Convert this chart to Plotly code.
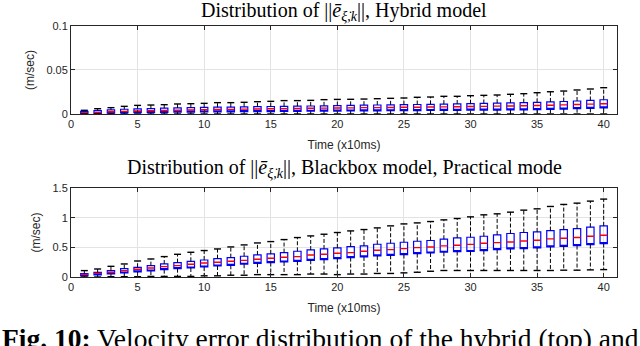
import plotly.graph_objects as go

steps = list(range(1, 41))

# top panel: hybrid model (m/sec)
hyb_med = [0.0010, 0.0018, 0.0025, 0.0030, 0.0034, 0.0037, 0.0040, 0.0043, 0.0046, 0.0049,
           0.0051, 0.0053, 0.0055, 0.0057, 0.0059, 0.0061, 0.0063, 0.0065, 0.0067, 0.0069,
           0.0070, 0.0072, 0.0073, 0.0074, 0.0076, 0.0077, 0.0079, 0.0081, 0.0083, 0.0085,
           0.0087, 0.0089, 0.0091, 0.0094, 0.0097, 0.0100, 0.0104, 0.0108, 0.0112, 0.0117]
hyb_q3 = [0.0030, 0.0040, 0.0048, 0.0054, 0.0058, 0.0062, 0.0066, 0.0069, 0.0072, 0.0075,
          0.0077, 0.0079, 0.0081, 0.0083, 0.0085, 0.0087, 0.0089, 0.0091, 0.0093, 0.0096,
          0.0098, 0.0100, 0.0102, 0.0104, 0.0106, 0.0108, 0.0110, 0.0112, 0.0114, 0.0117,
          0.0120, 0.0123, 0.0126, 0.0129, 0.0133, 0.0137, 0.0142, 0.0148, 0.0154, 0.0162]
hyb_q1 = [0.0002, 0.0006, 0.0010, 0.0013, 0.0015, 0.0017, 0.0019, 0.0021, 0.0022, 0.0023,
          0.0024, 0.0025, 0.0026, 0.0027, 0.0028, 0.0029, 0.0030, 0.0031, 0.0032, 0.0033,
          0.0034, 0.0035, 0.0036, 0.0037, 0.0038, 0.0039, 0.0040, 0.0041, 0.0042, 0.0043,
          0.0044, 0.0045, 0.0046, 0.0047, 0.0050, 0.0053, 0.0056, 0.0060, 0.0064, 0.0070]
hyb_hi = [0.0042, 0.0060, 0.0072, 0.0087, 0.0098, 0.0102, 0.0106, 0.0114, 0.0117, 0.0121,
          0.0129, 0.0129, 0.0133, 0.0140, 0.0144, 0.0152, 0.0152, 0.0155, 0.0163, 0.0166,
          0.0167, 0.0170, 0.0174, 0.0178, 0.0182, 0.0190, 0.0193, 0.0201, 0.0201, 0.0208,
          0.0212, 0.0216, 0.0224, 0.0231, 0.0242, 0.0253, 0.0261, 0.0273, 0.0284, 0.0299]
hyb_lo = [0.0000, 0.0000, 0.0000, 0.0000, 0.0000, 0.0000, 0.0000, 0.0000, 0.0000, 0.0000,
          0.0000, 0.0000, 0.0000, 0.0000, 0.0000, 0.0000, 0.0000, 0.0000, 0.0000, 0.0000,
          0.0000, 0.0000, 0.0000, 0.0000, 0.0000, 0.0000, 0.0000, 0.0000, 0.0000, 0.0000,
          0.0000, 0.0000, 0.0000, 0.0000, 0.0000, 0.0000, 0.0000, 0.0000, 0.0000, 0.0000]

# bottom panel: blackbox model, practical mode (m/sec)
bb_med = [0.045, 0.062, 0.080, 0.108, 0.130, 0.152, 0.175, 0.192, 0.214, 0.236,
          0.248, 0.265, 0.280, 0.300, 0.316, 0.333, 0.344, 0.372, 0.383, 0.400,
          0.411, 0.434, 0.451, 0.462, 0.479, 0.496, 0.507, 0.524, 0.535, 0.550,
          0.569, 0.580, 0.591, 0.608, 0.620, 0.642, 0.654, 0.665, 0.687, 0.704]
bb_q3 = [0.057, 0.079, 0.108, 0.141, 0.164, 0.192, 0.220, 0.243, 0.265, 0.287,
         0.310, 0.327, 0.350, 0.372, 0.389, 0.412, 0.434, 0.456, 0.473, 0.490,
         0.513, 0.524, 0.552, 0.569, 0.586, 0.603, 0.615, 0.637, 0.659, 0.670,
         0.687, 0.710, 0.733, 0.750, 0.760, 0.783, 0.800, 0.817, 0.840, 0.862]
bb_q1 = [0.017, 0.034, 0.051, 0.068, 0.085, 0.101, 0.125, 0.141, 0.152, 0.169,
         0.186, 0.197, 0.215, 0.231, 0.243, 0.253, 0.265, 0.282, 0.293, 0.310,
         0.327, 0.338, 0.355, 0.366, 0.378, 0.395, 0.405, 0.417, 0.429, 0.430,
         0.445, 0.462, 0.473, 0.480, 0.490, 0.507, 0.518, 0.530, 0.547, 0.564]
bb_hi = [0.108, 0.135, 0.180, 0.220, 0.270, 0.304, 0.344, 0.383, 0.417, 0.446,
         0.473, 0.507, 0.541, 0.574, 0.597, 0.631, 0.665, 0.693, 0.721, 0.750,
         0.777, 0.800, 0.828, 0.862, 0.895, 0.912, 0.935, 0.963, 0.986, 1.014,
         1.048, 1.065, 1.093, 1.127, 1.149, 1.189, 1.223, 1.245, 1.279, 1.313]
bb_lo = [0.000, 0.000, 0.005, 0.005, 0.005, 0.010, 0.010, 0.010, 0.010, 0.020,
         0.020, 0.030, 0.030, 0.040, 0.040, 0.040, 0.040, 0.050, 0.050, 0.040,
         0.050, 0.050, 0.060, 0.060, 0.070, 0.080, 0.097, 0.110, 0.110, 0.110,
         0.110, 0.110, 0.110, 0.110, 0.110, 0.110, 0.115, 0.115, 0.120, 0.125]

titles = ["Distribution of ||<i>ē</i><sub><i>ξ̇,k</i></sub>||, Hybrid model",
          "Distribution of ||<i>ē</i><sub><i>ξ̇,k</i></sub>||, Blackbox model, Practical mode"]

SANS = "Liberation Sans, Arial, sans-serif"
SERIF = "Liberation Serif, Times New Roman, serif"
AXC = "#262626"

fig = go.Figure()


def add_panel(med, q1, q3, lo, hi, xa, ya):
    # blue boxes
    fig.add_trace(go.Box(x=steps, q1=q1, median=q1, q3=q3, lowerfence=q1, upperfence=q3,
                         width=0.55, line=dict(color="#0000ff", width=1.2),
                         fillcolor="rgba(0,0,0,0)", xaxis=xa, yaxis=ya, hoverinfo="skip"))
    # red medians
    fig.add_trace(go.Box(x=steps, q1=med, median=med, q3=med, lowerfence=med, upperfence=med,
                         width=0.55, line=dict(color="#ff0000", width=1.4),
                         fillcolor="rgba(0,0,0,0)", xaxis=xa, yaxis=ya, hoverinfo="skip"))
    # dashed whiskers
    wx, wy = [], []
    for i, s in enumerate(steps):
        wx += [s, s, None, s, s, None]
        wy += [q3[i], hi[i], None, q1[i], lo[i], None]
    fig.add_trace(go.Scatter(x=wx, y=wy, mode="lines", xaxis=xa, yaxis=ya,
                             line=dict(color="black", width=1, dash="4px,2px"),
                             hoverinfo="skip"))
    # whisker caps
    fig.add_trace(go.Scatter(x=steps + steps, y=hi + lo, mode="markers", xaxis=xa, yaxis=ya,
                             marker=dict(symbol="line-ew", size=5,
                                         line=dict(color="black", width=1.4)),
                             hoverinfo="skip"))


add_panel(hyb_med, hyb_q1, hyb_q3, hyb_lo, hyb_hi, "x", "y")
add_panel(bb_med, bb_q1, bb_q3, bb_lo, bb_hi, "x2", "y2")

xcommon = dict(range=[0, 41], tickvals=[0, 5, 10, 15, 20, 25, 30, 35, 40],
               showgrid=True, gridcolor="#e3e3e3", gridwidth=1, zeroline=False,
               showline=True, linecolor=AXC, linewidth=1, mirror="allticks",
               ticks="inside", ticklen=4, tickcolor=AXC, automargin=False,
               tickfont=dict(family=SANS, size=11, color=AXC),
               title=dict(text="Time (x10ms)", font=dict(family=SANS, size=12, color=AXC),
                          standoff=11))
ycommon = dict(showgrid=True, gridcolor="#e3e3e3", gridwidth=1, zeroline=False,
               showline=True, linecolor=AXC, linewidth=1, mirror="allticks",
               ticks="inside", ticklen=4, tickcolor=AXC, automargin=False,
               tickfont=dict(family=SANS, size=11, color=AXC),
               title=dict(text="(m/sec)", font=dict(family=SANS, size=12, color=AXC),
                          standoff=9))

fig.update_layout(
    width=640, height=346,
    margin=dict(l=71, r=23, t=0, b=0, autoexpand=False),
    paper_bgcolor="white", plot_bgcolor="white",
    showlegend=False, boxmode="overlay",
    xaxis=dict(xcommon, domain=[0, 1], anchor="y"),
    yaxis=dict(ycommon, domain=[0.6705, 0.9249], anchor="x", range=[0, 0.1],
               tickvals=[0, 0.05, 0.1], ticktext=["0", "0.05", "0.1"]),
    xaxis2=dict(xcommon, domain=[0, 1], anchor="y2"),
    yaxis2=dict(ycommon, domain=[0.1994, 0.4566], anchor="x2", range=[0, 1.5],
                tickvals=[0, 0.5, 1, 1.5], ticktext=["0", "0.5", "1", "1.5"]),
)

fig.add_annotation(text=titles[0], xref="paper", yref="paper", x=0.5, y=0.968,
                   yanchor="middle", showarrow=False,
                   font=dict(family=SERIF, size=20, color="black"))
fig.add_annotation(text=titles[1], xref="paper", yref="paper", x=0.5, y=0.5116,
                   yanchor="middle", showarrow=False,
                   font=dict(family=SERIF, size=20, color="black"))
fig.add_annotation(text="<b>Fig. 10:</b> Velocity error distribution of the hybrid (top) and",
                   xref="paper", yref="paper", x=-71 / 546, xanchor="left",
                   y=0.0734, yanchor="top", showarrow=False,
                   font=dict(family=SERIF, size=27.5, color="black"))

# drop the default 8px body margin so the figure sits at the page corner
fig.write_html("out.html", config={"displayModeBar": False},
               post_script="document.body.style.margin = '0';")
